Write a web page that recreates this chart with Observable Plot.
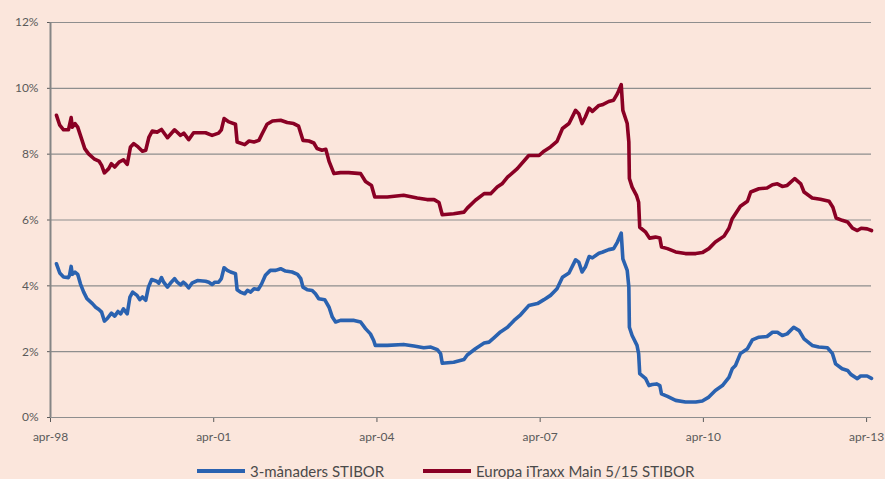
<!DOCTYPE html>
<html>
<head>
<meta charset="utf-8">
<script src="https://cdn.jsdelivr.net/npm/d3@7"></script>
<script src="https://cdn.jsdelivr.net/npm/@observablehq/plot@0.6"></script>
<style>
  html, body { margin: 0; padding: 0; background: #fbe6dc; }
  #wrap { position: relative; width: 885px; height: 479px; overflow: hidden; font-family: Lato, "Open Sans", sans-serif; }
  #legend { position: absolute; left: 0; top: 462px; width: 885px; height: 24px; }
  .item { position: absolute; top: 0; display: flex; align-items: center; font-size: 15px; color: #4a4a4a; white-space: nowrap; }
  .sw { display: inline-block; width: 48px; height: 4px; margin-right: 5px; }
</style>
</head>
<body>
<div id="wrap"><div id="chart"></div><div id="legend"></div></div>
<script>
// ---- Data (decimal years, percent) ----
const seriesNames = ["3-månaders STIBOR", "Europa iTraxx Main 5/15 STIBOR"];
const seriesColors = ["#2a62b0", "#8a0024"];

const stiborYears = [1998.36,1998.42,1998.49,1998.58,1998.60,1998.63,1998.65,1998.70,1998.75,1998.80,1998.86,1998.92,1999.02,1999.08,1999.14,1999.19,1999.24,1999.29,1999.37,1999.43,1999.49,1999.54,1999.59,1999.66,1999.71,1999.76,1999.84,1999.89,1999.94,2000.00,2000.05,2000.11,2000.20,2000.24,2000.29,2000.33,2000.40,2000.47,2000.53,2000.58,2000.64,2000.69,2000.73,2000.79,2000.85,2000.95,2001.10,2001.16,2001.22,2001.27,2001.34,2001.39,2001.44,2001.50,2001.56,2001.65,2001.68,2001.74,2001.82,2001.87,2001.93,2001.99,2002.07,2002.13,2002.20,2002.29,2002.39,2002.48,2002.57,2002.69,2002.79,2002.85,2002.89,2002.97,2003.06,2003.12,2003.18,2003.29,2003.37,2003.43,2003.49,2003.58,2003.83,2003.95,2004.04,2004.13,2004.19,2004.22,2004.44,2004.74,2004.93,2005.11,2005.24,2005.36,2005.42,2005.45,2005.66,2005.85,2005.91,2006.06,2006.22,2006.31,2006.40,2006.52,2006.65,2006.77,2006.89,2007.04,2007.20,2007.32,2007.44,2007.56,2007.66,2007.78,2007.90,2007.96,2008.02,2008.08,2008.15,2008.21,2008.33,2008.39,2008.51,2008.60,2008.67,2008.74,2008.77,2008.85,2008.88,2008.89,2008.94,2009.03,2009.06,2009.08,2009.19,2009.25,2009.31,2009.39,2009.45,2009.48,2009.59,2009.74,2009.92,2010.11,2010.23,2010.35,2010.47,2010.60,2010.72,2010.78,2010.84,2010.93,2011.06,2011.15,2011.27,2011.42,2011.52,2011.61,2011.70,2011.79,2011.91,2012.01,2012.10,2012.25,2012.37,2012.53,2012.62,2012.68,2012.80,2012.90,2012.96,2013.08,2013.14,2013.26,2013.34];
const stiborValues = [4.67,4.39,4.27,4.25,4.32,4.59,4.35,4.42,4.35,4.06,3.81,3.61,3.46,3.35,3.28,3.20,2.93,3.00,3.17,3.08,3.22,3.15,3.30,3.15,3.66,3.81,3.71,3.58,3.66,3.56,3.96,4.19,4.14,4.08,4.25,4.11,3.96,4.11,4.22,4.11,4.03,4.11,4.06,3.94,4.08,4.16,4.14,4.11,4.04,4.11,4.11,4.22,4.55,4.47,4.42,4.37,3.88,3.81,3.76,3.86,3.81,3.91,3.89,4.06,4.32,4.47,4.47,4.52,4.45,4.42,4.35,4.22,3.96,3.88,3.86,3.76,3.61,3.58,3.35,3.05,2.90,2.95,2.95,2.90,2.70,2.54,2.34,2.19,2.19,2.22,2.17,2.12,2.14,2.06,1.94,1.65,1.68,1.76,1.90,2.09,2.26,2.29,2.42,2.60,2.74,2.95,3.12,3.40,3.46,3.58,3.71,3.91,4.26,4.39,4.79,4.72,4.42,4.57,4.89,4.85,4.99,5.02,5.10,5.13,5.33,5.60,4.82,4.47,3.96,2.74,2.49,2.19,1.94,1.33,1.18,0.97,1.00,1.02,0.97,0.72,0.64,0.52,0.47,0.47,0.50,0.62,0.82,0.97,1.22,1.48,1.58,1.94,2.09,2.36,2.44,2.46,2.59,2.59,2.49,2.54,2.74,2.64,2.39,2.19,2.14,2.12,1.95,1.63,1.48,1.43,1.31,1.18,1.26,1.26,1.19];

const itraxxYears = [1998.36,1998.42,1998.49,1998.58,1998.63,1998.65,1998.70,1998.75,1998.80,1998.88,1998.95,1999.05,1999.14,1999.19,1999.24,1999.32,1999.37,1999.43,1999.51,1999.59,1999.66,1999.72,1999.78,1999.86,1999.94,2000.00,2000.06,2000.12,2000.21,2000.29,2000.40,2000.53,2000.64,2000.70,2000.79,2000.88,2001.10,2001.22,2001.34,2001.39,2001.44,2001.53,2001.65,2001.68,2001.82,2001.90,2001.99,2002.08,2002.14,2002.23,2002.33,2002.48,2002.60,2002.72,2002.81,2002.89,2003.00,2003.09,2003.15,2003.24,2003.31,2003.37,2003.46,2003.58,2003.73,2003.95,2004.04,2004.15,2004.21,2004.44,2004.74,2004.99,2005.17,2005.30,2005.39,2005.45,2005.66,2005.85,2005.91,2006.06,2006.22,2006.34,2006.46,2006.55,2006.65,2006.83,2007.04,2007.23,2007.32,2007.44,2007.56,2007.66,2007.78,2007.90,2007.96,2008.02,2008.08,2008.15,2008.21,2008.33,2008.39,2008.51,2008.60,2008.67,2008.74,2008.77,2008.85,2008.88,2008.89,2008.94,2009.02,2009.06,2009.08,2009.19,2009.26,2009.37,2009.45,2009.48,2009.59,2009.74,2009.92,2010.11,2010.23,2010.35,2010.47,2010.63,2010.72,2010.78,2010.93,2011.06,2011.12,2011.27,2011.42,2011.52,2011.61,2011.70,2011.79,2011.93,2012.04,2012.10,2012.25,2012.40,2012.56,2012.63,2012.69,2012.80,2012.90,2012.99,2013.08,2013.15,2013.26,2013.34];
const itraxxValues = [9.18,8.88,8.74,8.74,9.11,8.82,8.93,8.82,8.57,8.17,8.01,7.86,7.79,7.66,7.43,7.56,7.71,7.61,7.76,7.83,7.69,8.22,8.32,8.22,8.09,8.12,8.52,8.70,8.67,8.75,8.50,8.74,8.57,8.64,8.44,8.65,8.65,8.57,8.64,8.74,9.08,8.98,8.91,8.37,8.29,8.40,8.37,8.42,8.62,8.91,9.01,9.03,8.96,8.93,8.85,8.42,8.40,8.34,8.17,8.12,8.15,7.78,7.41,7.44,7.44,7.41,7.17,7.05,6.70,6.70,6.75,6.67,6.62,6.62,6.53,6.16,6.19,6.24,6.36,6.60,6.80,6.80,7.00,7.10,7.30,7.56,7.96,7.96,8.09,8.22,8.39,8.78,8.93,9.33,9.23,8.93,9.13,9.40,9.30,9.48,9.50,9.60,9.64,9.84,10.11,9.33,8.93,8.37,7.26,7.00,6.75,6.54,5.78,5.63,5.45,5.48,5.45,5.18,5.13,5.03,4.98,4.98,5.01,5.13,5.33,5.51,5.75,6.04,6.42,6.57,6.85,6.95,6.97,7.07,7.10,7.02,7.05,7.26,7.10,6.85,6.67,6.63,6.57,6.39,6.06,5.99,5.94,5.75,5.68,5.75,5.73,5.68];

const xTickYears = [1998.25, 2001.25, 2004.25, 2007.25, 2010.25, 2013.25];
const xTickLabels = ["apr-98", "apr-01", "apr-04", "apr-07", "apr-10", "apr-13"];
const yTicks = [0, 2, 4, 6, 8, 10, 12];

// ---- Build table ----
const rows = [];
stiborYears.forEach((t, i) => rows.push({t, v: stiborValues[i], s: seriesNames[0]}));
itraxxYears.forEach((t, i) => rows.push({t, v: itraxxValues[i], s: seriesNames[1]}));

const chart = Plot.plot({
  width: 885,
  height: 445,
  marginLeft: 50,
  marginRight: 14,
  marginTop: 22,
  marginBottom: 28,
  style: {background: "transparent", fontFamily: "Lato, 'Open Sans', sans-serif", fontSize: "12px", color: "#5a5a5a", overflow: "visible"},
  x: {type: "linear", domain: [1998.25, 2013.34], ticks: xTickYears, tickFormat: d => xTickLabels[xTickYears.indexOf(d)], tickSize: 5, tickPadding: 10, label: null},
  y: {domain: [0, 12], ticks: yTicks, tickFormat: d => d + "%", tickSize: 3, tickPadding: 9, label: null},
  color: {domain: seriesNames, range: seriesColors},
  marks: [
    Plot.ruleY(yTicks, {stroke: "#8e8e8e", strokeWidth: 1.2}),
    Plot.ruleX([1998.25], {stroke: "#858585", strokeWidth: 2}),
    Plot.lineY(rows, {x: "t", y: "v", z: "s", stroke: "s", strokeWidth: 3.6, strokeLinejoin: "round", strokeLinecap: "round", curve: "linear"})
  ]
});
document.getElementById("chart").appendChild(chart);

// ---- Legend ----
const legendLeft = [197, 423];
const legend = document.getElementById("legend");
seriesNames.forEach((name, i) => {
  const item = document.createElement("div");
  item.className = "item";
  item.style.left = legendLeft[i] + "px";
  const sw = document.createElement("span");
  sw.className = "sw";
  sw.style.background = seriesColors[i];
  item.appendChild(sw);
  item.appendChild(document.createTextNode(name));
  legend.appendChild(item);
});
</script>
</body>
</html>
